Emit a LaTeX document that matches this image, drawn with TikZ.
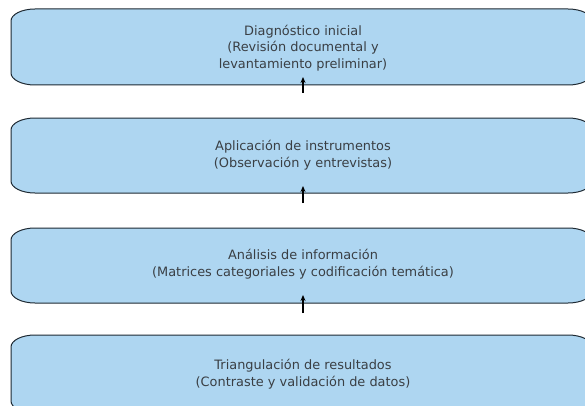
\documentclass[tikz,border=0pt]{standalone}
\usepackage{fontspec}
\setmainfont{DejaVu Sans}
\definecolor{boxfill}{HTML}{AED6F1}
\definecolor{boxline}{HTML}{1F2A33}
\definecolor{txt}{HTML}{3A3F44}
\newcommand{\stagebox}[2]{%
  \fill[boxfill] (11+24,#1) -- (592-24,#1)
    arc[start angle=90,end angle=0,x radius=24,y radius=12] -- (592,#2+12)
    arc[start angle=0,end angle=-90,x radius=24,y radius=12] -- (11+24,#2)
    arc[start angle=270,end angle=180,x radius=24,y radius=12] -- (11,#1-12)
    arc[start angle=180,end angle=90,x radius=24,y radius=12] -- cycle;
  \draw[boxline,line width=1pt] (11+24,#1) -- (592-24,#1)
    arc[start angle=90,end angle=0,x radius=24,y radius=12] -- (592,#2+12)
    arc[start angle=0,end angle=-90,x radius=24,y radius=12] -- (11+24,#2)
    arc[start angle=270,end angle=180,x radius=24,y radius=12] -- (11,#1-12)
    arc[start angle=180,end angle=90,x radius=24,y radius=12] -- cycle;}
\tikzset{
  stagetext/.style={text=txt,align=center,font=\fontsize{12.9}{16.5}\selectfont,inner sep=0pt},
  uparrow/.style={-{Stealth[length=6pt,width=5pt]},line width=1.3pt,black}
}
\usetikzlibrary{arrows.meta}
\begin{document}
\begin{tikzpicture}[x=1pt,y=1pt]
\useasboundingbox (0,0) rectangle (585,405);
\fill[white] (0,0) rectangle (585,405);
\clip (0,0) rectangle (585,405);
% boxes (y measured from bottom: 405 - pixel y)
\stagebox{396}{320}
\stagebox{287}{212}
\stagebox{177}{102}
\stagebox{70}{-8}
\node[stagetext] (s1) at (303,357) {Diagnóstico inicial\\(Revisión documental y\\levantamiento preliminar)};
\node[stagetext] (s2) at (303,250) {Aplicación de instrumentos\\(Observación y entrevistas)};
\node[stagetext] (s3) at (303,141) {Análisis de información\\(Matrices categoriales y codificación temática)};
\node[stagetext] (s4) at (303,31) {Triangulación de resultados\\(Contraste y validación de datos)};
\coordinate (a1s) at (303,312);
\coordinate (a1e) at (303,328);
\coordinate (a2s) at (303,202);
\coordinate (a2e) at (303,219);
\coordinate (a3s) at (303,92);
\coordinate (a3e) at (303,110);
\draw[uparrow] (a1s) -- (a1e);
\draw[uparrow] (a2s) -- (a2e);
\draw[uparrow] (a3s) -- (a3e);
\end{tikzpicture}
\end{document}
